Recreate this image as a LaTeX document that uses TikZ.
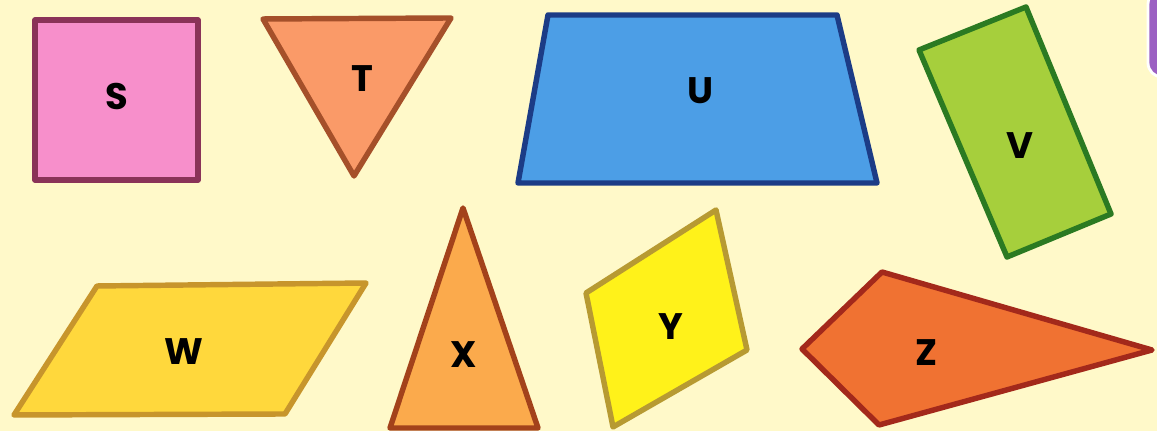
\documentclass[tikz,border=0pt]{standalone}
\usepackage{fontspec}
\setmainfont{Poppins}
\definecolor{paper}{HTML}{FFF9C9}
\definecolor{sfill}{HTML}{F78FCB}\definecolor{sline}{HTML}{8A3358}
\definecolor{tfill}{HTML}{FA9A68}\definecolor{tline}{HTML}{A5502A}
\definecolor{ufill}{HTML}{4C9EE6}\definecolor{uline}{HTML}{1C3C86}
\definecolor{vfill}{HTML}{A6CF3C}\definecolor{vline}{HTML}{2B7A22}
\definecolor{wfill}{HTML}{FFD83C}\definecolor{wline}{HTML}{C7952C}
\definecolor{xfill}{HTML}{FBAA4C}\definecolor{xline}{HTML}{A3421B}
\definecolor{yfill}{HTML}{FFF21A}\definecolor{yline}{HTML}{B79A32}
\definecolor{zfill}{HTML}{F07232}\definecolor{zline}{HTML}{A3291B}
\definecolor{tab}{HTML}{9B60C2}
\begin{document}
\begin{tikzpicture}[x=0.1mm, y=-0.1mm,
  shp/.style={line width=1.55pt, line join=round},
  lbl/.style={font=\fontsize{10.5}{12}\selectfont\bfseries, inner sep=0pt}]
  \useasboundingbox (0,0) rectangle (1157,431);
  \clip (0,0) rectangle (1157,431);
  \fill[paper] (0,0) rectangle (1157,431);
  \fill[tab, draw=white, line width=0.8pt, rounded corners=4] (1148,-10) rectangle (1175,77);
  % top row
  \draw[shp, fill=sfill, draw=sline] (35,20) rectangle (198,180);
  \draw[shp, fill=tfill, draw=tline] (263,19) -- (451,18) -- (354,176) -- cycle;
  \draw[shp, fill=ufill, draw=uline] (548,15) -- (837,15) -- (877,183) -- (518,183) -- cycle;
  \draw[shp, fill=vfill, draw=vline] (919,50) -- (1026,7) -- (1111,214) -- (1007,257) -- cycle;
  % bottom row
  \draw[shp, fill=wfill, draw=wline] (97,286) -- (366,283) -- (285,414) -- (14,415) -- cycle;
  \draw[shp, fill=xfill, draw=xline] (463,208) -- (538,428) -- (390,428) -- cycle;
  \draw[shp, fill=yfill, draw=yline] (586,293) -- (716,210) -- (747,350) -- (613,427) -- cycle;
  \draw[shp, fill=zfill, draw=zline] (882,272) -- (1152,350) -- (879,425) -- (802,349) -- cycle;
  % labels
  \node[lbl] (s) at (117,97) {S};
  \node[lbl] (t) at (362,79) {T};
  \node[lbl] (u) at (700,91) {U};
  \node[lbl] (v) at (1020,146) {V};
  \node[lbl] (w) at (184,352) {W};
  \node[lbl] (x) at (464,355) {X};
  \node[lbl] (y) at (671,327) {Y};
  \node[lbl] (z) at (926,353) {Z};
\end{tikzpicture}
\end{document}
